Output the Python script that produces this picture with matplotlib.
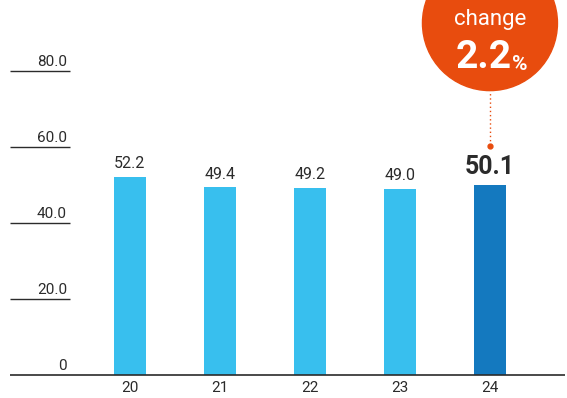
import matplotlib.pyplot as plt
from matplotlib.patches import Ellipse

years = ["20", "21", "22", "23", "24"]
values = [52.2, 49.4, 49.2, 49.0, 50.1]
yticks = [0, 20, 40, 60, 80]
ytick_labels = ["0", "20.0", "40.0", "60.0", "80.0"]
change_pct = "2.2"

LIGHT = "#38BFEE"
DARK = "#1479BF"
ORANGE = "#E84C0E"
TEXT = "#2B2B2B"

plt.rcParams["font.family"] = ["Roboto", "DejaVu Sans"]

fig = plt.figure(figsize=(5.67, 3.98), dpi=100)
ax = fig.add_axes([0, 0, 1, 1])
ax.set_xlim(-1.444, 4.856)
ax.set_ylim(-6.05, 98.68)
ax.axis("off")

x = list(range(len(years)))
colors = [LIGHT] * (len(years) - 1) + [DARK]
ax.bar(x, values, width=0.36, color=colors, zorder=2)

# value labels
for i, v in enumerate(values[:-1]):
    ax.text(i, v + 1.5, f"{v:.1f}", ha="center", va="bottom",
            fontsize=11.5, color=TEXT)
ax.text(x[-1], values[-1] + 1.6, f"{values[-1]:.1f}", ha="center",
        va="bottom", fontsize=18, fontweight="bold", color=TEXT)

# y ticks: short rules under each label
for t, lab in zip(yticks, ytick_labels):
    if t > 0:
        ax.hlines(t, -1.333, -0.667, color=TEXT, lw=1)
    ax.text(-0.70, t + 0.6, lab, ha="right", va="bottom", fontsize=11,
            color=TEXT)

# baseline
ax.hlines(0, -1.333, 4.83, color=TEXT, lw=1.2)

# x tick labels
for i, y in enumerate(years):
    ax.text(i, -3.4, y, ha="center", va="center", fontsize=11, color=TEXT)

# change bubble
cx, cy = x[-1], 92.6
ax.add_patch(Ellipse((cx, cy), width=135 / 90, height=135 / 3.8,
                     color=ORANGE, zorder=3))
ax.text(cx, 93.5, "change", ha="center", va="center", fontsize=16,
        color="white", zorder=4)
ax.text(cx - 0.07, 83.5, change_pct, ha="center", va="center", fontsize=28,
        fontweight="bold", color="white", zorder=4)
ax.text(cx + 0.33, 81.8, "%", ha="center", va="center", fontsize=15,
        fontweight="bold", color="white", zorder=4)

# leader from bubble to bar
ax.vlines(cx, 60.5, 74.5, color=ORANGE, lw=1, linestyles=(0, (1, 2)))
ax.plot(cx, 60.2, "o", color=ORANGE, ms=3.5)

fig.savefig("out.png", dpi=100)
